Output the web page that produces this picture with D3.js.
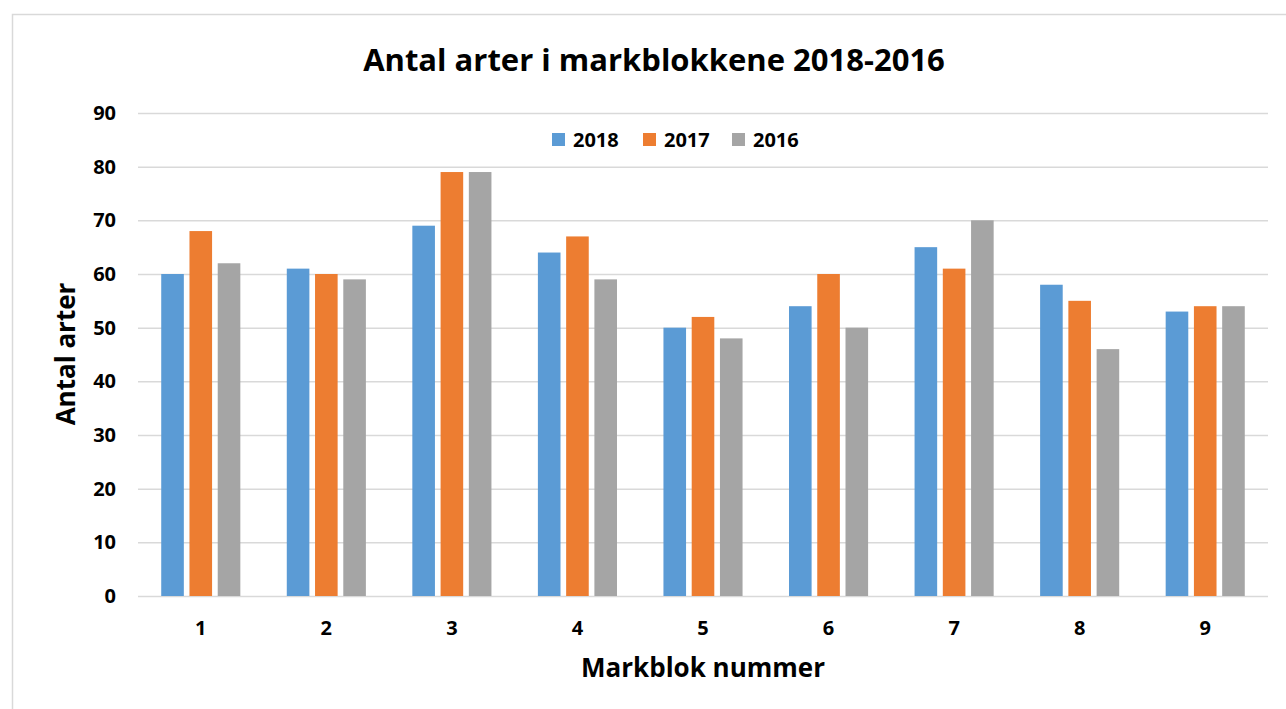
<!doctype html>
<html>
  <head>
    <meta charset="utf-8" />
    <title>Antal arter i markblokkene</title>
    <style>
      body { margin: 0; background: #fff; }
      svg text { font-family: "Open Sans", sans-serif; font-weight: bold; fill: #000; }
      .grid line { stroke: #d9d9d9; stroke-width: 1.5px; }
      .grid .domain { display: none; }
    </style>
  </head>
  <body>
    <div id="chart"></div>
    <script src="https://d3js.org/d3.v7.min.js"></script>
    <script>
      var blocks = [1, 2, 3, 4, 5, 6, 7, 8, 9];
      var years = ["2018", "2017", "2016"];
      var values2018 = [60, 61, 69, 64, 50, 54, 65, 58, 53];
      var values2017 = [68, 60, 79, 67, 52, 60, 61, 55, 54];
      var values2016 = [62, 59, 79, 59, 48, 50, 70, 46, 54];
      var yTicks = [0, 10, 20, 30, 40, 50, 60, 70, 80, 90];
      var colors = ["#5b9bd5", "#ed7d31", "#a5a5a5"];

      var series = [values2018, values2017, values2016];

      var width = 1286, height = 709;
      var margin = {top: 113, right: 18, bottom: 113, left: 138};

      var svg = d3.select("#chart").append("svg")
          .attr("width", width)
          .attr("height", height);

      // outer frame
      svg.append("rect")
          .attr("x", 12.5).attr("y", 14.5)
          .attr("width", width + 10).attr("height", height + 10)
          .attr("fill", "none")
          .attr("stroke", "#d9d9d9")
          .attr("stroke-width", 1.5);

      var x0 = d3.scaleBand()
          .domain(blocks)
          .range([margin.left, width - margin.right])
          .paddingInner(0.37)
          .paddingOuter(0.185);

      var x1 = d3.scaleBand()
          .domain(d3.range(years.length))
          .range([0, x0.bandwidth()])
          .paddingInner(0.2);

      var y = d3.scaleLinear()
          .domain([0, 90])
          .range([height - margin.bottom, margin.top]);

      // gridlines
      svg.append("g")
          .attr("class", "grid")
          .attr("transform", "translate(" + margin.left + ",0)")
          .call(d3.axisLeft(y)
                  .tickValues(yTicks)
                  .tickSize(-(width - margin.left - margin.right))
                  .tickFormat(""));

      // bars
      var group = svg.append("g").selectAll("g")
          .data(blocks)
          .enter().append("g")
          .attr("transform", function(d) { return "translate(" + x0(d) + ",0)"; });

      group.selectAll("rect")
          .data(function(d, i) {
            return series.map(function(s, k) { return {k: k, v: s[i]}; });
          })
          .enter().append("rect")
          .attr("x", function(d) { return x1(d.k); })
          .attr("y", function(d) { return y(d.v); })
          .attr("width", x1.bandwidth())
          .attr("height", function(d) { return y(0) - y(d.v); })
          .attr("fill", function(d) { return colors[d.k]; });

      // y tick labels
      svg.append("g").selectAll("text")
          .data(yTicks)
          .enter().append("text")
          .attr("x", 116)
          .attr("y", function(d) { return y(d); })
          .attr("dy", "0.35em")
          .attr("text-anchor", "end")
          .style("font-size", "20px")
          .text(function(d) { return d; });

      // x tick labels
      svg.append("g").selectAll("text")
          .data(blocks)
          .enter().append("text")
          .attr("x", function(d) { return x0(d) + x0.bandwidth() / 2; })
          .attr("y", 628)
          .attr("dy", "0.35em")
          .attr("text-anchor", "middle")
          .style("font-size", "20px")
          .text(function(d) { return d; });

      // title
      svg.append("text")
          .attr("x", 654)
          .attr("y", 60)
          .attr("dy", "0.35em")
          .attr("text-anchor", "middle")
          .style("font-size", "31px")
          .text("Antal arter i markblokkene 2018-2016");

      // axis titles
      svg.append("text")
          .attr("x", 703)
          .attr("y", 668)
          .attr("dy", "0.35em")
          .attr("text-anchor", "middle")
          .style("font-size", "26px")
          .text("Markblok nummer");

      svg.append("text")
          .attr("transform", "translate(66,354) rotate(-90)")
          .attr("dy", "0.35em")
          .attr("text-anchor", "middle")
          .style("font-size", "26px")
          .text("Antal arter");

      // legend
      var legendX = [552, 643, 732];
      var legend = svg.append("g").selectAll("g")
          .data(years)
          .enter().append("g")
          .attr("transform", function(d, i) { return "translate(" + legendX[i] + ",133)"; });

      legend.append("rect")
          .attr("width", 13).attr("height", 13)
          .attr("fill", function(d, i) { return colors[i]; });

      legend.append("text")
          .attr("x", 21)
          .attr("y", 6.5)
          .attr("dy", "0.35em")
          .style("font-size", "20px")
          .text(function(d) { return d; });
    </script>
  </body>
</html>
